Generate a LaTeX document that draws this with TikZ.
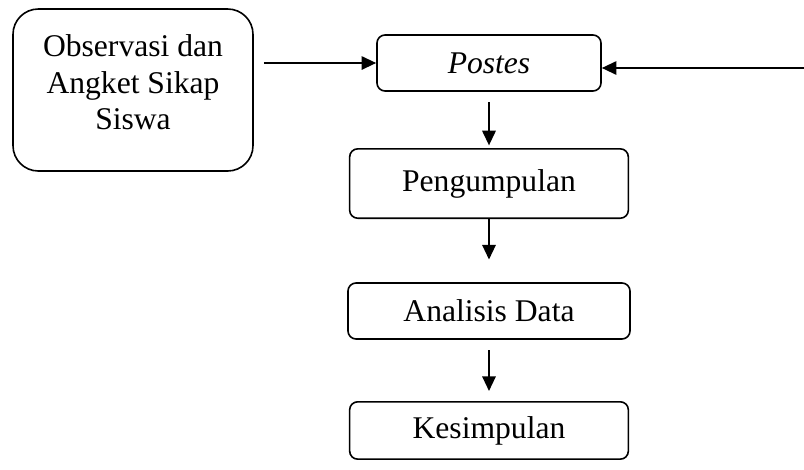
\documentclass[tikz,border=0pt]{standalone}
\usepackage{fontspec}
\setmainfont{Liberation Serif}
\usetikzlibrary{arrows.meta,positioning,calc}

\tikzset{
  box/.style={draw=black, line width=1.2pt, rounded corners=6pt, align=center, inner sep=0pt},
  flow/.style={->, line width=1.6pt}
}

\begin{document}
\begin{tikzpicture}[x=0.75pt, y=-0.75pt, >={Triangle[length=11pt,width=10pt]}, font=\fontsize{23.7}{27.5}\selectfont]
\useasboundingbox (0,0) rectangle (804,469);

\node[box, rounded corners=19pt, minimum width=180pt, minimum height=121.5pt] (obs) at (133,90) {Observasi dan\\Angket Sikap\\Siswa\\[-16pt]};
\node[box, minimum width=168pt, minimum height=42pt] (post) at (489,63) {\textit{Postes}};

\node[box, minimum width=209pt, minimum height=52pt] (peng)[below of=post, node distance=90.4pt] {Pengumpulan};
\node[box, minimum width=211.5pt, minimum height=42pt] (ana)[below of=peng, node distance=95.6pt] {Analisis Data};
\node[box, minimum width=209pt, minimum height=43pt] (kes)[below of=ana, node distance=89.6pt] {Kesimpulan};

\coordinate (rin) at (804,68);

\draw[flow, shorten <=7.5pt] (obs.east |- post.west) -- (post.west);
\draw[flow] (rin) -- (rin -| post.east);
\draw[flow, shorten <=8pt, shorten >=2pt] (post.south) -- (peng.north);
\draw[flow, shorten >=17pt] (peng.south) -- (ana.north);
\draw[flow, shorten <=8pt, shorten >=7.5pt] (ana.south) -- (kes.north);
\end{tikzpicture}
\end{document}
